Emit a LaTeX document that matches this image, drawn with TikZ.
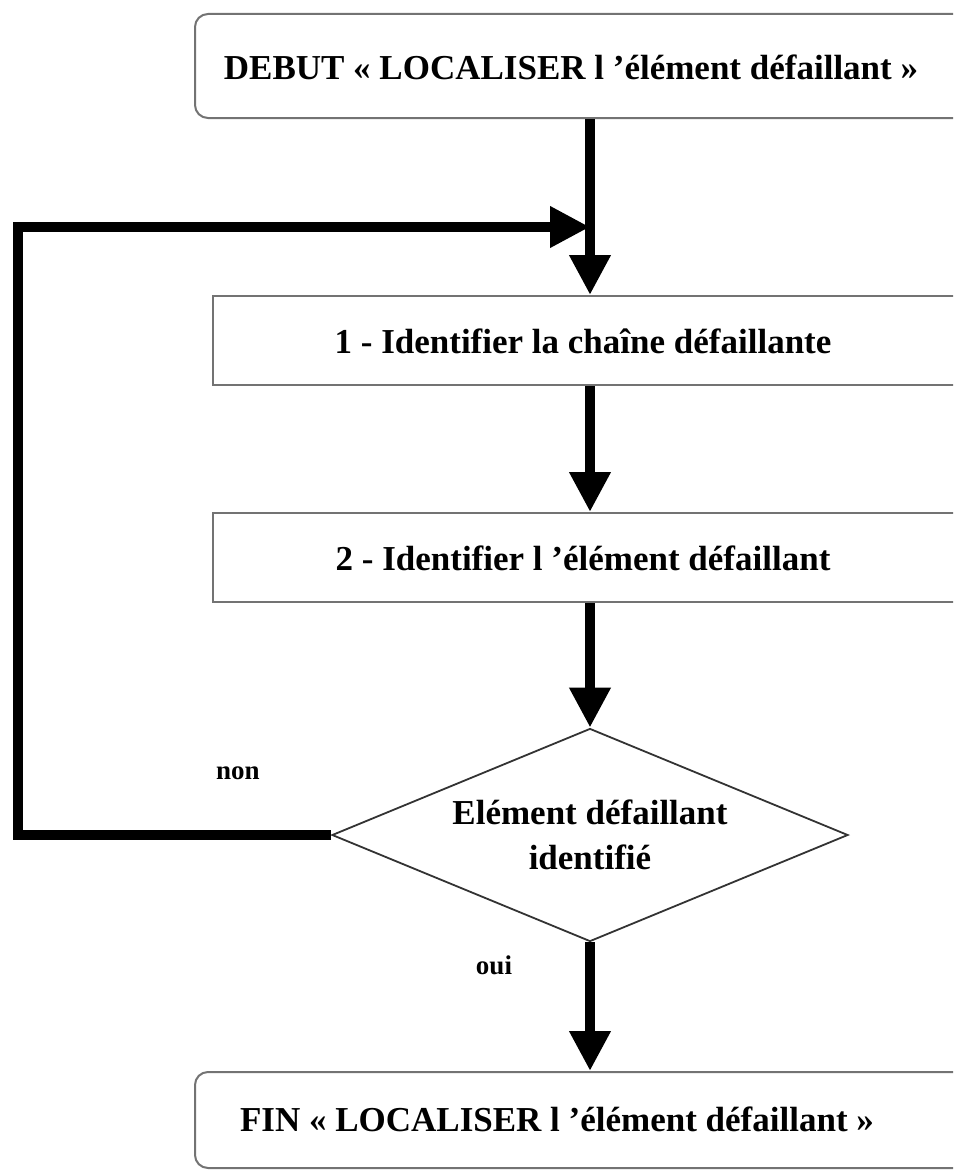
\documentclass[tikz,border=0pt]{standalone}
\usepackage{fontspec}
\setmainfont{Liberation Serif}
\usetikzlibrary{arrows.meta}
\usetikzlibrary{shapes.geometric}
\definecolor{bordgris}{gray}{0.45}
\tikzset{fleche/.style={line width=10pt,line join=miter,-{Triangle[width=39pt,length=40pt]}}}
\tikzset{boite/.style={draw=bordgris,line width=2pt,minimum height=89pt,inner sep=0pt}}
\tikzset{terminal/.style={boite,rounded corners=13pt}}
\tikzset{texte/.style={font=\fontsize{35}{45}\selectfont\bfseries,inner sep=0pt}}
\tikzset{decision/.style={diamond,aspect=2.45,draw=black!80,line width=1.8pt,minimum width=516pt,minimum height=213pt,align=center,inner sep=0pt,font=\fontsize{35}{45}\selectfont\bfseries}}
\tikzset{etiquette/.style={font=\fontsize{27}{30}\selectfont\bfseries,inner sep=0pt}}

\begin{document}
\begin{tikzpicture}[x=1pt, y=-1pt]
	\useasboundingbox (0,0) rectangle (953,1172);
	\clip (0,0) rectangle (953,1172);
	% boites
	\node[terminal,minimum width=790pt,minimum height=104pt] (debut) at (590,66) {};
	\node[texte] (debut-txt) at (571,67) {DEBUT « LOCALISER l ’élément défaillant »};
	\node[boite,minimum width=754pt] (etape1) at (590,340.5) {};
	\node[texte] (etape1-txt) at (583,341) {1 - Identifier la chaîne défaillante};
	\node[boite,minimum width=754pt] (etape2) at (590,557.5) {};
	\node[texte] (etape2-txt) at (583,558) {2 - Identifier l ’élément défaillant};
	\node[decision] (test) at (590,835) {Elément défaillant\\identifié};
	\node[terminal,minimum width=790pt,minimum height=96pt] (fin) at (590,1120) {};
	\node[texte] (fin-txt) at (557,1119) {FIN « LOCALISER l ’élément défaillant »};
	%
	\node[etiquette] (non) at (238,773) {non};
	\node[etiquette] (oui) at (494,965) {oui};
	% fleches
	\coordinate (jonction) at (590,227);
	\coordinate (coin-haut) at (17.5,227);
	\coordinate (coin-bas) at (17.5,835);
	\draw[fleche] (debut) -- (etape1);
	\draw[fleche] (etape1) -- (etape2);
	\draw[fleche] (etape2) -- (test);
	\draw[fleche] (test) -- (fin);
	\draw[fleche] (test.west) -- (coin-bas) -- (coin-haut) -- (jonction);
\end{tikzpicture}
\end{document}
